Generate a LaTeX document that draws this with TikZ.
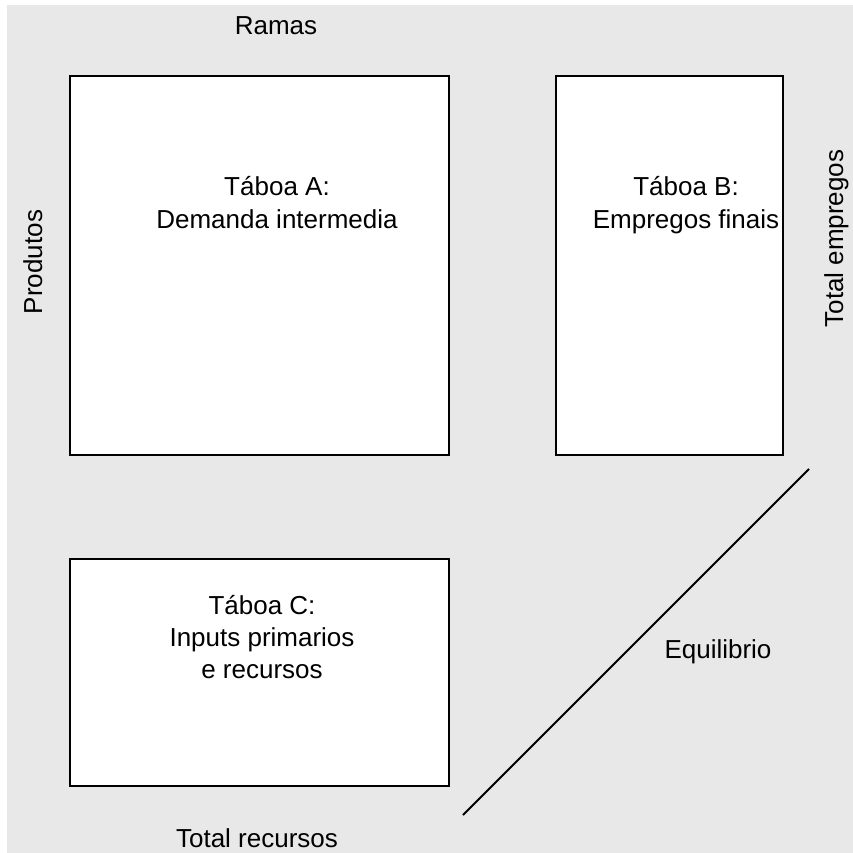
\documentclass[tikz,border=0pt]{standalone}
\usepackage{fontspec}
\setmainfont{Liberation Sans}
\definecolor{bggray}{HTML}{E8E8E8}
\begin{document}
\begin{tikzpicture}[x=1pt,y=-1pt,
  tabbox/.style={draw=black,line width=2pt,fill=white,inner sep=0pt,anchor=north west},
  lbl/.style={font=\fontsize{26}{33}\selectfont,inner sep=0pt,anchor=base,align=center},
  edge/.style={draw=black,line width=2pt}]
\useasboundingbox (0,0) rectangle (853,853);
\fill[bggray] (7,5) rectangle (853,853);
\node[tabbox,minimum width=379pt,minimum height=379pt] (A) at (69,75) {};
\node[tabbox,minimum width=227pt,minimum height=379pt] (B) at (554.5,75) {};
\node[tabbox,minimum width=379pt,minimum height=227pt] (C) at (69,558) {};
\node[lbl] (tA1) at (277,195) {Táboa A:};
\node[lbl] (tA2) at (277,228) {Demanda intermedia};
\node[lbl] (tB1) at (686,195) {Táboa B:};
\node[lbl] (tB2) at (686,228) {Empregos finais};
\node[lbl] (tC1) at (262,614) {Táboa C:};
\node[lbl] (tC2) at (262,646) {Inputs primarios};
\node[lbl] (tC3) at (262,678) {e recursos};
\node[lbl] (ram) at (276,35) {Ramas};
\node[lbl,rotate=90] (prod) at (42,262) {Produtos};
\node[lbl,rotate=90] (temp) at (843,238.5) {Total empregos};
\node[lbl] (trec) at (257,847) {Total recursos};
\node[lbl] (eq) at (718,658) {Equilibrio};
\coordinate (l1) at (463,815);
\coordinate (l2) at (809,469);
\draw[edge] (l1) -- (l2);
\end{tikzpicture}
\end{document}
